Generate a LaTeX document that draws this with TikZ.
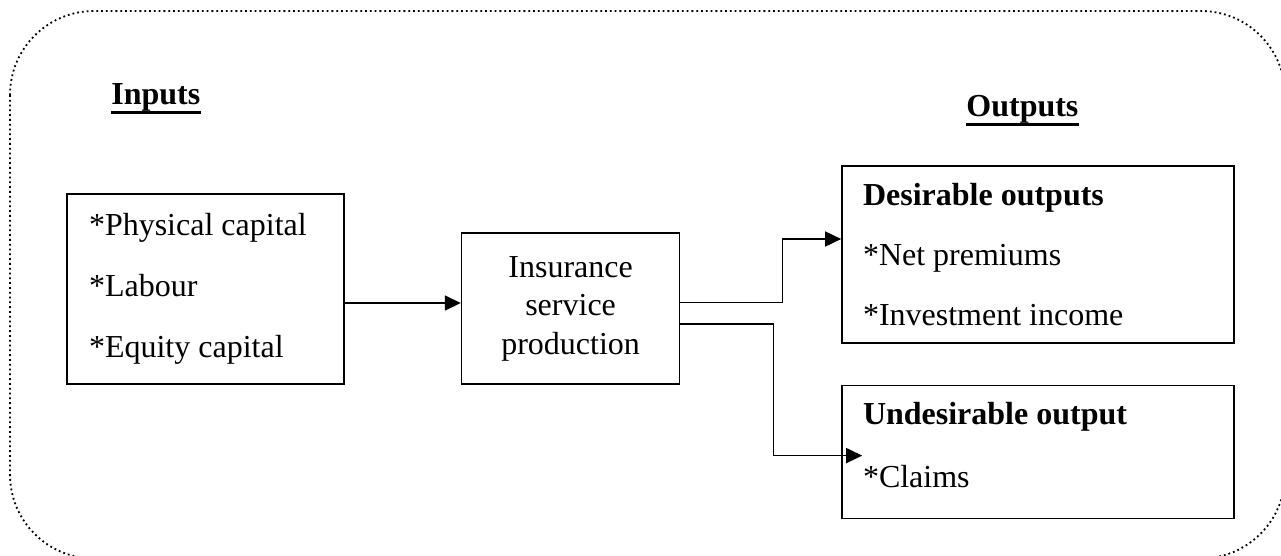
\documentclass[tikz,border=0pt]{standalone}
\usepackage{fontspec}
\setmainfont{Liberation Serif}
\usetikzlibrary{arrows.meta, positioning}
\newcommand{\boxline}{0.8pt}
\newcommand{\textsz}{\fontsize{16}{19.25}\selectfont}
\tikzstyle{listbox} = [% box with a list of items
  rectangle,
  draw=black,
  line width=\boxline,
  align=flush left,
  inner ysep=0pt
  ]
\tikzstyle{inputbox} = [% input node
  listbox,
  minimum width=138.5pt,
  minimum height=95pt,
  text width=116.5pt,
  inner xsep=11pt,
  font=\fontsize{16}{30.5}\selectfont
  ]
\tikzstyle{outputbox} = [% output node
  listbox,
  minimum width=196pt,
  text width=175pt,
  inner xsep=10.5pt
  ]
\tikzstyle{process} = [% process node
  rectangle,
  minimum width=109pt,
  minimum height=75.5pt,
  align=center,
  draw=black,
  line width=\boxline,
  font=\textsz
  ]
\tikzstyle{title} = [% heading
  inner sep=0pt,
  anchor=base west,
  font=\bfseries\textsz
  ]
\tikzstyle{titlerule} = [% underline of a heading
  line width=1.3pt
  ]
\tikzstyle{frame} = [% dotted outer frame
  draw=black,
  line width=0.9pt,
  dash pattern=on 0.9pt off 1.5pt,
  rounded corners=42pt
  ]
\tikzstyle{arrow} = [% arrow format
  line width=\boxline,
  -{Triangle[length=8pt,width=7.5pt]}
  ]

\begin{document}
\begin{tikzpicture}[x=0.5pt, y=-0.5pt]

\useasboundingbox (0,0) rectangle (1281,556);
\draw[frame] (10,11) rectangle (1285,558.5);

%%% Headings
\node[title] (intitle) at (111,105) {Inputs};
\node[title] (outtitle) at (966,117) {Outputs};
\draw[titlerule] (intitle.south west) -- (intitle.south east);
\draw[titlerule] (outtitle.south west) -- (outtitle.south east);

%%% Nodes
\node[inputbox] (inputs) at (205.5,289)
  {*Physical capital\\{}*Labour\\{}*Equity capital};
\node[process] (prod) [right=58pt of inputs, yshift=-9.75pt]
  {Insurance\\service\\production};
\node[outputbox, minimum height=88.5pt,
  font=\fontsize{16}{30}\selectfont] (desir) at (1038,254.5)
  {\textbf{Desirable outputs}\\{}*Net premiums\\{}*Investment income};
\node[outputbox, minimum height=66.5pt,
  font=\fontsize{16}{31.5}\selectfont] (undesir) [below=20.5pt of desir]
  {\textbf{Undesirable output}\\{}*Claims\rule[-7pt]{0pt}{7pt}};

%%% Arrows
\draw[arrow] ([yshift=-7pt]inputs.east) coordinate (a) -- (a -| prod.west);
\draw[arrow] ([yshift=3pt]prod.east) -- ++(102,0)
  |- ([yshift=7.75pt]desir.west);
\draw[arrow] ([yshift=-7.75pt]prod.east) -- ++(93,0)
  |- ([xshift=10.5pt,yshift=-1.75pt]undesir.west);

\end{tikzpicture}
\end{document}
